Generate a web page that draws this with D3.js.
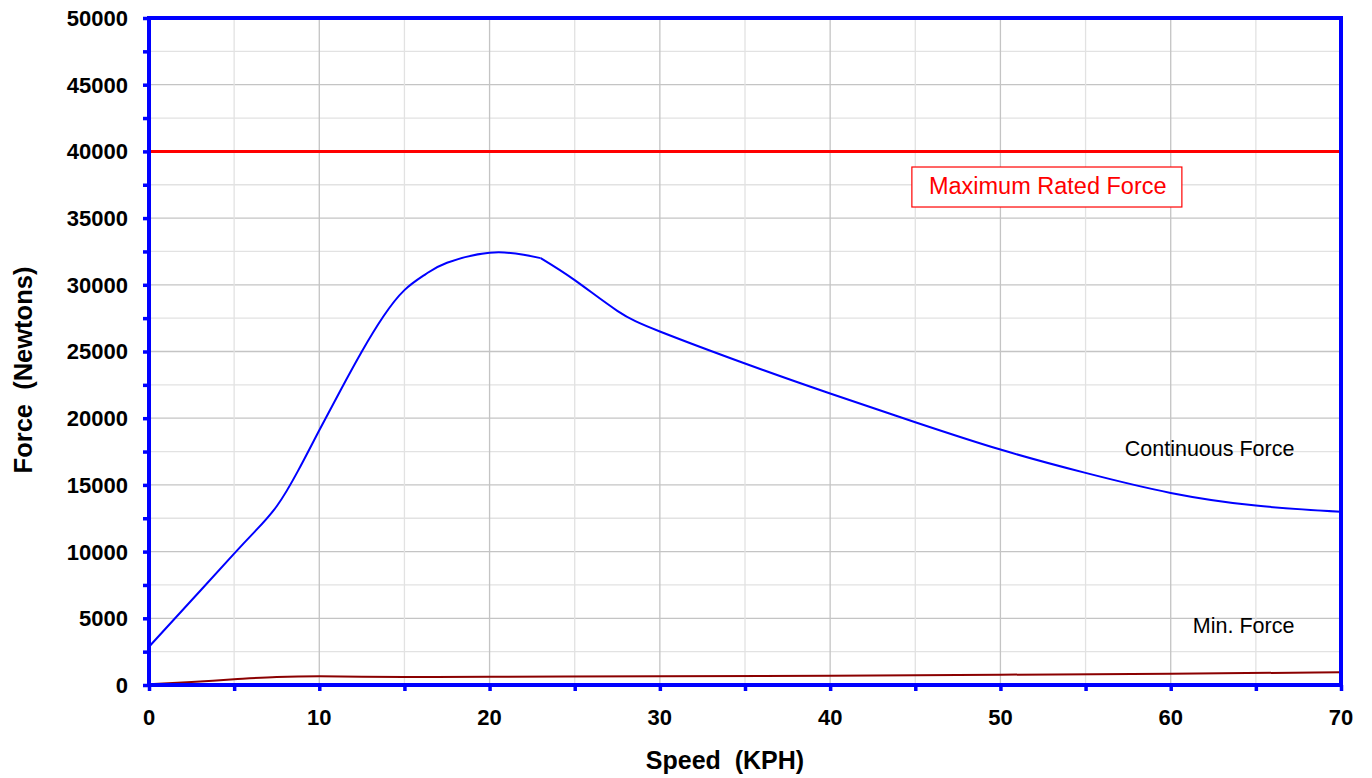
<!DOCTYPE html>
<html><head><meta charset="utf-8">
<script src="https://cdn.jsdelivr.net/npm/d3@7"></script>
<style>
html,body{margin:0;padding:0;background:#fff;}
text{font-family:"Liberation Sans",Arial,sans-serif;}
</style></head>
<body><svg id="c" width="1372" height="778"></svg>
<script>
const speedCont = [0, 2.5, 5, 6.25, 7.5, 8.75, 10, 11.25, 12.5, 13.75, 15, 16.25, 17.5, 20, 22, 23, 25, 27.5, 30, 35, 40, 45, 50, 55, 60, 65, 70];
const forceCont = [2870, 6350, 9850, 11550, 13400, 16050, 19100, 22100, 25000, 27600, 29600, 30800, 31650, 32400, 32250, 32000, 30350, 28050, 26500, 24100, 21850, 19700, 17650, 15900, 14400, 13450, 12980];
const breakSpeed = 23; // visible slope break in the continuous curve
const speedMin = [0, 2.5, 5, 7.5, 10, 15, 20, 30, 40, 50, 60, 70];
const forceMin = [50, 220, 430, 600, 650, 600, 620, 650, 700, 770, 850, 950];
const maxRated = 40000;
const xTicks = [0, 10, 20, 30, 40, 50, 60, 70];
const yTicks = [0, 5000, 10000, 15000, 20000, 25000, 30000, 35000, 40000, 45000, 50000];
const labels = {x: "Speed  (KPH)", y: "Force  (Newtons)", max: "Maximum Rated Force", cont: "Continuous Force", min: "Min. Force"};

const svg = d3.select("#c");
const L = 149, R = 1341, T = 18, B = 685;
const x = d3.scaleLinear().domain([0, 70]).range([L, R]);
const y = d3.scaleLinear().domain([0, 50000]).range([B, T]);

// grid
const g = svg.append("g");
d3.range(2500, 50000, 2500).forEach(v => {
  g.append("line").attr("x1", L).attr("x2", R).attr("y1", y(v)).attr("y2", y(v))
   .attr("stroke", v % 5000 === 0 ? "#c4c4c4" : "#e2e2e2").attr("stroke-width", 1.3);
});
d3.range(5, 70, 5).forEach(v => {
  g.append("line").attr("y1", T).attr("y2", B).attr("x1", x(v)).attr("x2", x(v))
   .attr("stroke", v % 10 === 0 ? "#c4c4c4" : "#e2e2e2").attr("stroke-width", 1.3);
});

// max rated line
svg.append("line").attr("x1", L).attr("x2", R).attr("y1", y(maxRated)).attr("y2", y(maxRated))
  .attr("stroke", "#ff0000").attr("stroke-width", 3);

// curves
const nat = d3.line().x(d => x(d[0])).y(d => y(d[1])).curve(d3.curveNatural);
const cont = speedCont.map((s, i) => [s, forceCont[i]]);
const seg1 = cont.filter(d => d[0] <= breakSpeed);
const seg2 = cont.filter(d => d[0] >= breakSpeed);
[seg1, seg2].forEach(seg => {
  svg.append("path").datum(seg).attr("d", nat).attr("fill", "none")
    .attr("stroke", "#0000ff").attr("stroke-width", 2).attr("stroke-linejoin", "round");
});
const mono = d3.line().x(d => x(d[0])).y(d => y(d[1])).curve(d3.curveMonotoneX);
svg.append("path").datum(speedMin.map((s, i) => [s, forceMin[i]]))
  .attr("d", mono).attr("fill", "none").attr("stroke", "#8b0000").attr("stroke-width", 2);

// axes
const yAxis = d3.axisLeft(y).tickValues(d3.range(0, 50001, 2500)).tickSize(6).tickFormat(() => "");
const ya = svg.append("g").attr("transform", `translate(${L},0)`).call(yAxis);
const xAxis = d3.axisBottom(x).tickValues(d3.range(0, 71, 5)).tickSize(6).tickFormat(() => "");
const xa = svg.append("g").attr("transform", `translate(0,${B})`).call(xAxis);
[ya, xa].forEach(a => {
  a.selectAll("line").attr("stroke", "#0000ff").attr("stroke-width", 3.5);
  a.select(".domain").remove();
});
// frame
svg.append("rect").attr("x", L).attr("y", T).attr("width", R - L).attr("height", B - T)
  .attr("fill", "none").attr("stroke", "#0000ff").attr("stroke-width", 4);

// tick labels
svg.append("g").selectAll("text").data(yTicks).join("text")
  .attr("x", 128).attr("y", d => y(d)).attr("dy", "0.36em").attr("text-anchor", "end")
  .attr("font-size", 22).attr("font-weight", "bold").attr("fill", "#000").text(d => d);
svg.append("g").selectAll("text").data(xTicks).join("text")
  .attr("x", d => x(d)).attr("y", 725).attr("text-anchor", "middle")
  .attr("font-size", 22).attr("font-weight", "bold").attr("fill", "#000").text(d => d);

// axis titles
svg.append("text").attr("x", 725).attr("y", 769).attr("text-anchor", "middle")
  .attr("font-size", 25).attr("font-weight", "bold").style("white-space", "pre").text(labels.x);
svg.append("text").attr("transform", "translate(32,370) rotate(-90)").attr("text-anchor", "middle")
  .attr("font-size", 25.5).attr("font-weight", "bold").style("white-space", "pre").text(labels.y);

// annotations
svg.append("rect").attr("x", x(44.8)).attr("y", y(38830)).attr("width", 270).attr("height", 40)
  .attr("fill", "#fff").attr("stroke", "#ff0000").attr("stroke-width", 1.2);
svg.append("text").attr("x", x(45.8)).attr("y", 194).attr("font-size", 23.5).attr("fill", "#ff0000").text(labels.max);
svg.append("text").attr("x", x(57.3)).attr("y", 456).attr("font-size", 21.5).attr("fill", "#000").text(labels.cont);
svg.append("text").attr("x", x(61.3)).attr("y", 633).attr("font-size", 21.5).attr("fill", "#000").text(labels.min);
</script></body></html>
